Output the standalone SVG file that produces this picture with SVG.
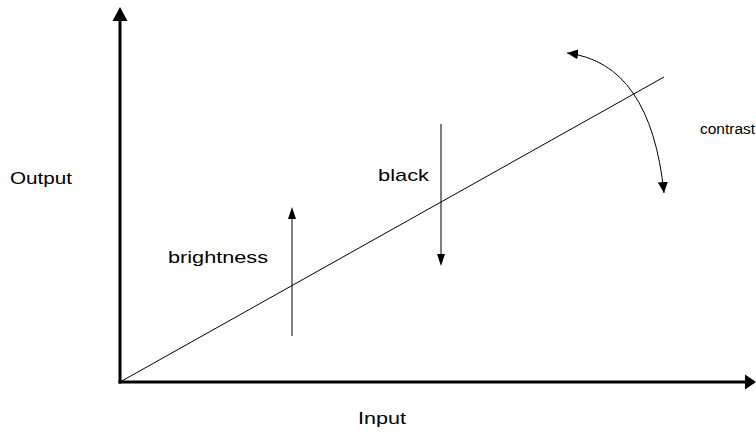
<svg xmlns="http://www.w3.org/2000/svg" width="756" height="432" viewBox="0 0 756 432">
<style>
  .axis { stroke:#000; stroke-width:3; fill:none; }
  .thin { stroke:#000; stroke-width:1; fill:none; }
  .lbl { font-family:"Liberation Sans", Arial, sans-serif; font-size:17px; fill:#000; }
</style>
<defs>
  <marker id="ah" markerUnits="userSpaceOnUse" markerWidth="12" markerHeight="10" refX="11" refY="5" orient="auto-start-reverse" viewBox="0 0 12 10">
    <path d="M0,0 L11,5 L0,10 Z" fill="#000"/>
  </marker>
</defs>
<rect width="756" height="432" fill="#fff"/>
<g id="connectors">
  <line class="axis" x1="120" y1="383.5" x2="120" y2="18"/>
  <polygon points="120,7 112.5,21 127.5,21" fill="#000"/>
  <line class="axis" x1="118.5" y1="382" x2="746" y2="382"/>
  <polygon points="756,382 745,374.5 745,389.5" fill="#000"/>
  <line class="thin" x1="120" y1="382" x2="664" y2="77"/>
  <line class="thin" x1="441" y1="124" x2="441" y2="258" />
  <polygon points="441,266 437,254 445,254" fill="#000"/>
  <line class="thin" x1="292" y1="336" x2="292" y2="215"/>
  <polygon points="292,207 288,219 296,219" fill="#000"/>
  <path class="thin" d="M 567 53 Q 650.5 63 664 193" marker-start="url(#ah)" marker-end="url(#ah)"/>
</g>
<g id="labels">
  <text class="lbl" x="10" y="184" textLength="62" lengthAdjust="spacingAndGlyphs">Output</text>
  <text class="lbl" x="168" y="263" textLength="100" lengthAdjust="spacingAndGlyphs">brightness</text>
  <text class="lbl" x="378" y="181" textLength="51" lengthAdjust="spacingAndGlyphs">black</text>
  <text class="lbl" x="700" y="134" style="font-size:15.5px">contrast</text>
  <text class="lbl" x="358" y="424" textLength="48" lengthAdjust="spacingAndGlyphs">Input</text>
</g>
</svg>
